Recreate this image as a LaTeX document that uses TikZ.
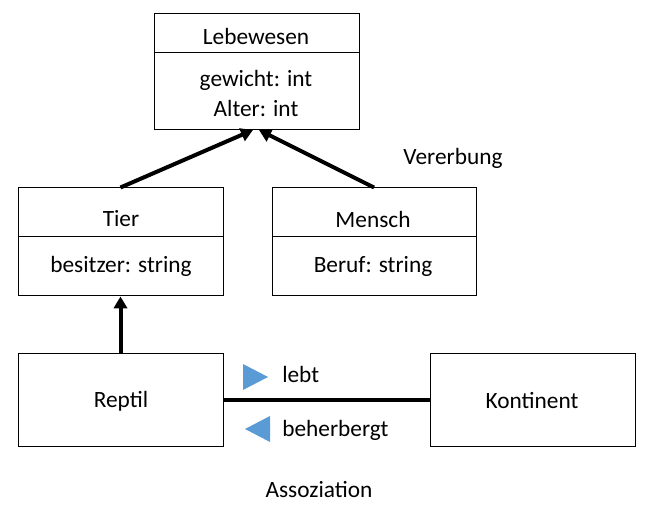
\documentclass[tikz,border=0pt]{standalone}
\usepackage{fontspec}
\setmainfont{Carlito}
\usetikzlibrary{arrows.meta}
\definecolor{triblue}{HTML}{5B9BD5}
\begin{document}
\begin{tikzpicture}[x=0.75pt,y=-0.75pt,
  every node/.style={font=\fontsize{17.5}{21}\selectfont, inner sep=0pt},
  classbox/.style={draw, line width=0.75pt, rectangle},
  divline/.style={line width=0.75pt},
  inherit/.style={line width=3pt, -{Triangle[length=9pt,width=10pt]}},
  assoc/.style={line width=3pt},
  tri/.style={fill=triblue, draw=none}
]
\useasboundingbox (0,0) rectangle (647,509);
% boxes
\node[classbox, minimum width=205*0.75pt, minimum height=116*0.75pt] (leb) at (256.5,72) {};
\node[classbox, minimum width=205*0.75pt, minimum height=108*0.75pt] (tier) at (120.5,242) {};
\node[classbox, minimum width=204*0.75pt, minimum height=108*0.75pt] (mensch) at (374,242) {};
\node[classbox, minimum width=205*0.75pt, minimum height=93*0.75pt] (reptil) at (120.5,400.5) {};
\node[classbox, minimum width=205*0.75pt, minimum height=93*0.75pt] (kont) at (532.5,400.5) {};
% dividers
\draw[divline] (154,53) -- (359,53);
\draw[divline] (18,237) -- (223,237);
\draw[divline] (272,237) -- (476,237);
% texts
\node (lebt1) at (256,36) {Lebewesen};
\node (lebt2) at (256,80) {gewicht: int};
\node (lebt3) at (256,108) {Alter: int};
\node (tiert1) at (121,219) {Tier};
\node (tiert2) at (121,266) {besitzer: string};
\node (mt1) at (373,219) {Mensch};
\node (mt2) at (373,266) {Beruf: string};
\node (rt) at (121,401) {Reptil};
\node (kt) at (532,401) {Kontinent};
\node (vererb) at (453,158) {Vererbung};
\node (assozt) at (319,490) {Assoziation};
\node[anchor=base west] (lebtxt) at (282,383) {lebt};
\node[anchor=base west] (behtxt) at (282,437) {beherbergt};
% connectors
\coordinate (lebA) at (253,130);
\coordinate (lebB) at (259,130);
\draw[inherit] (tier.north) -- (lebA);
\draw[inherit] (mensch.north) -- (lebB);
\draw[inherit] (reptil.north) -- (tier.south);
\draw[assoc] (reptil.east) -- (kont.east -| kont.west);
% triangles
\fill[tri] (243,364) -- (268,377) -- (243,390) -- cycle;
\fill[tri] (270,416) -- (245,429) -- (270,442) -- cycle;
\end{tikzpicture}
\end{document}
